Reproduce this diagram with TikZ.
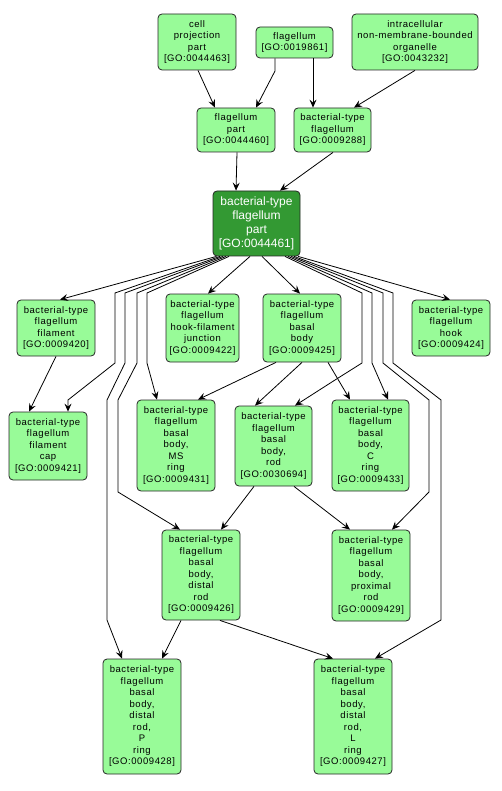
\documentclass[tikz,border=0pt]{standalone}
\usepackage{fontspec}
\setmainfont{Liberation Sans}
\newfontfamily\lightfont[LetterSpace=6]{Liberation Sans}
\usetikzlibrary{arrows.meta}
\definecolor{lightg}{RGB}{152,251,152}
\definecolor{darkg}{RGB}{51,153,51}
\tikzset{
  term/.style={draw=black!85, line width=0.8pt, rounded corners=4pt, fill=lightg, align=center,
    inner sep=0pt, font={\lightfont\fontsize{9.5}{11.5}\selectfont}},
  focus/.style={draw=black!85, line width=0.8pt, rounded corners=4pt, fill=darkg, align=center,
    inner sep=0pt, text=white, font={\fontsize{12}{14}\selectfont}},
  arr/.style={line width=0.8pt, -{Stealth[length=8pt,width=7pt,inset=3pt]}}
}
\begin{document}
\begin{tikzpicture}[x=1pt,y=-1pt]
\useasboundingbox (0,0) rectangle (501,791);
% nodes
\node[term, minimum width=78, minimum height=56] (cpp) at (197,42) {cell\\projection\\part\\{}[GO:0044463]};
\node[term, minimum width=77, minimum height=31] (flg) at (294.5,42.5) {flagellum\\{}[GO:0019861]};
\node[term, minimum width=126, minimum height=56] (inm) at (415,42) {intracellular\\non-membrane-bounded\\organelle\\{}[GO:0043232]};
\node[term, minimum width=78, minimum height=44] (fp) at (236,130) {flagellum\\part\\{}[GO:0044460]};
\node[term, minimum width=77, minimum height=44] (btf) at (332.5,130) {bacterial-type\\flagellum\\{}[GO:0009288]};
\node[focus, minimum width=87, minimum height=65] (btfp) at (256.5,223.5) {bacterial-type\\flagellum\\part\\{}[GO:0044461]};
\node[term, minimum width=78, minimum height=56] (fil) at (56,328) {bacterial-type\\flagellum\\filament\\{}[GO:0009420]};
\node[term, minimum width=73, minimum height=68] (hfj) at (202.5,328) {bacterial-type\\flagellum\\hook-filament\\junction\\{}[GO:0009422]};
\node[term, minimum width=78, minimum height=68] (bb) at (302,328) {bacterial-type\\flagellum\\basal\\body\\{}[GO:0009425]};
\node[term, minimum width=78, minimum height=56] (hook) at (451,328) {bacterial-type\\flagellum\\hook\\{}[GO:0009424]};
\node[term, minimum width=78, minimum height=68] (cap) at (48,446) {bacterial-type\\flagellum\\filament\\cap\\{}[GO:0009421]};
\node[term, minimum width=78, minimum height=91] (ms) at (176,445.5) {bacterial-type\\flagellum\\basal\\body,\\MS\\ring\\{}[GO:0009431]};
\node[term, minimum width=77, minimum height=80] (rod) at (273.5,446) {bacterial-type\\flagellum\\basal\\body,\\rod\\{}[GO:0030694]};
\node[term, minimum width=77, minimum height=91] (cring) at (370.5,445.5) {bacterial-type\\flagellum\\basal\\body,\\C\\ring\\{}[GO:0009433]};
\node[term, minimum width=78, minimum height=90] (drod) at (201,575) {bacterial-type\\flagellum\\basal\\body,\\distal\\rod\\{}[GO:0009426]};
\node[term, minimum width=78, minimum height=91] (prod) at (371,575.5) {bacterial-type\\flagellum\\basal\\body,\\proximal\\rod\\{}[GO:0009429]};
\node[term, minimum width=78, minimum height=115] (pring) at (142,716.5) {bacterial-type\\flagellum\\basal\\body,\\distal\\rod,\\P\\ring\\{}[GO:0009428]};
\node[term, minimum width=78, minimum height=115] (lring) at (353,716.5) {bacterial-type\\flagellum\\basal\\body,\\distal\\rod,\\L\\ring\\{}[GO:0009427]};
% edges
\draw[arr] ([xshift=1]cpp.south) -- ([xshift=-21]fp.north);
\draw[arr] ([xshift=-19.5]flg.south) -- (275,71) -- ([xshift=20]fp.north);
\draw[arr] ([xshift=18.5]flg.south) -- ([xshift=-19.5]btf.north);
\draw[arr] (inm.south) -- ([xshift=21.5]btf.north);
\draw[arr] ([xshift=1]fp.south) -- ([xshift=-20.5]btfp.north);
\draw[arr] ([xshift=0.5]btf.south) -- ([xshift=23.5]btfp.north);
\draw[arr] ([xshift=-40]btfp.south) -- ([xshift=4]fil.north);
\draw[arr] ([xshift=-6.5]btfp.south) -- ([xshift=5.5]hfj.north);
\draw[arr] ([xshift=5.5]btfp.south) -- ([xshift=-2]bb.north);
\draw[arr] ([xshift=41.5]btfp.south) -- ([xshift=-1]hook.north);
\draw[arr] ([xshift=-36.5]btfp.south) -- (115,293) -- (115,363) -- (68,400) -- ([xshift=20]cap.north);
\draw[arr] ([xshift=-33.5]btfp.south) -- (125,293) -- (125,363) -- (107,400) -- (107,620) -- ([xshift=-20]pring.north);
\draw[arr] ([xshift=-30.5]btfp.south) -- (137,293) -- (137,363) -- (118,400) -- (118,492) -- ([xshift=-21]drod.north);
\draw[arr] ([xshift=-27.5]btfp.south) -- (147,293) -- (147,363) -- ([xshift=-19]ms.north);
\draw[arr] ([xshift=28.5]btfp.south) -- (362,293) -- (362,363) -- (335,380) -- ([xshift=21.5]rod.north);
\draw[arr] ([xshift=31.5]btfp.south) -- (372,293) -- (372,363) -- ([xshift=17.5]cring.north);
\draw[arr] ([xshift=34.5]btfp.south) -- (383,293) -- (383,363) -- (429,400) -- (429,492) -- ([xshift=21]prod.north);
\draw[arr] ([xshift=37.5]btfp.south) -- (393,293) -- (393,363) -- (441,400) -- (441,620) -- ([xshift=22]lring.north);
\draw[arr] (fil.south) -- ([xshift=-19]cap.north);
\draw[arr] ([xshift=-26]bb.south) -- ([xshift=22]ms.north);
\draw[arr] (bb.south) -- ([xshift=-18.5]rod.north);
\draw[arr] ([xshift=26]bb.south) -- ([xshift=-20.5]cring.north);
\draw[arr] ([xshift=-19.5]rod.south) -- ([xshift=20]drod.north);
\draw[arr] ([xshift=20.5]rod.south) -- ([xshift=-21]prod.north);
\draw[arr] ([xshift=-20]drod.south) -- ([xshift=20]pring.north);
\draw[arr] ([xshift=19]drod.south) -- ([xshift=-20]lring.north);
\end{tikzpicture}
\end{document}
